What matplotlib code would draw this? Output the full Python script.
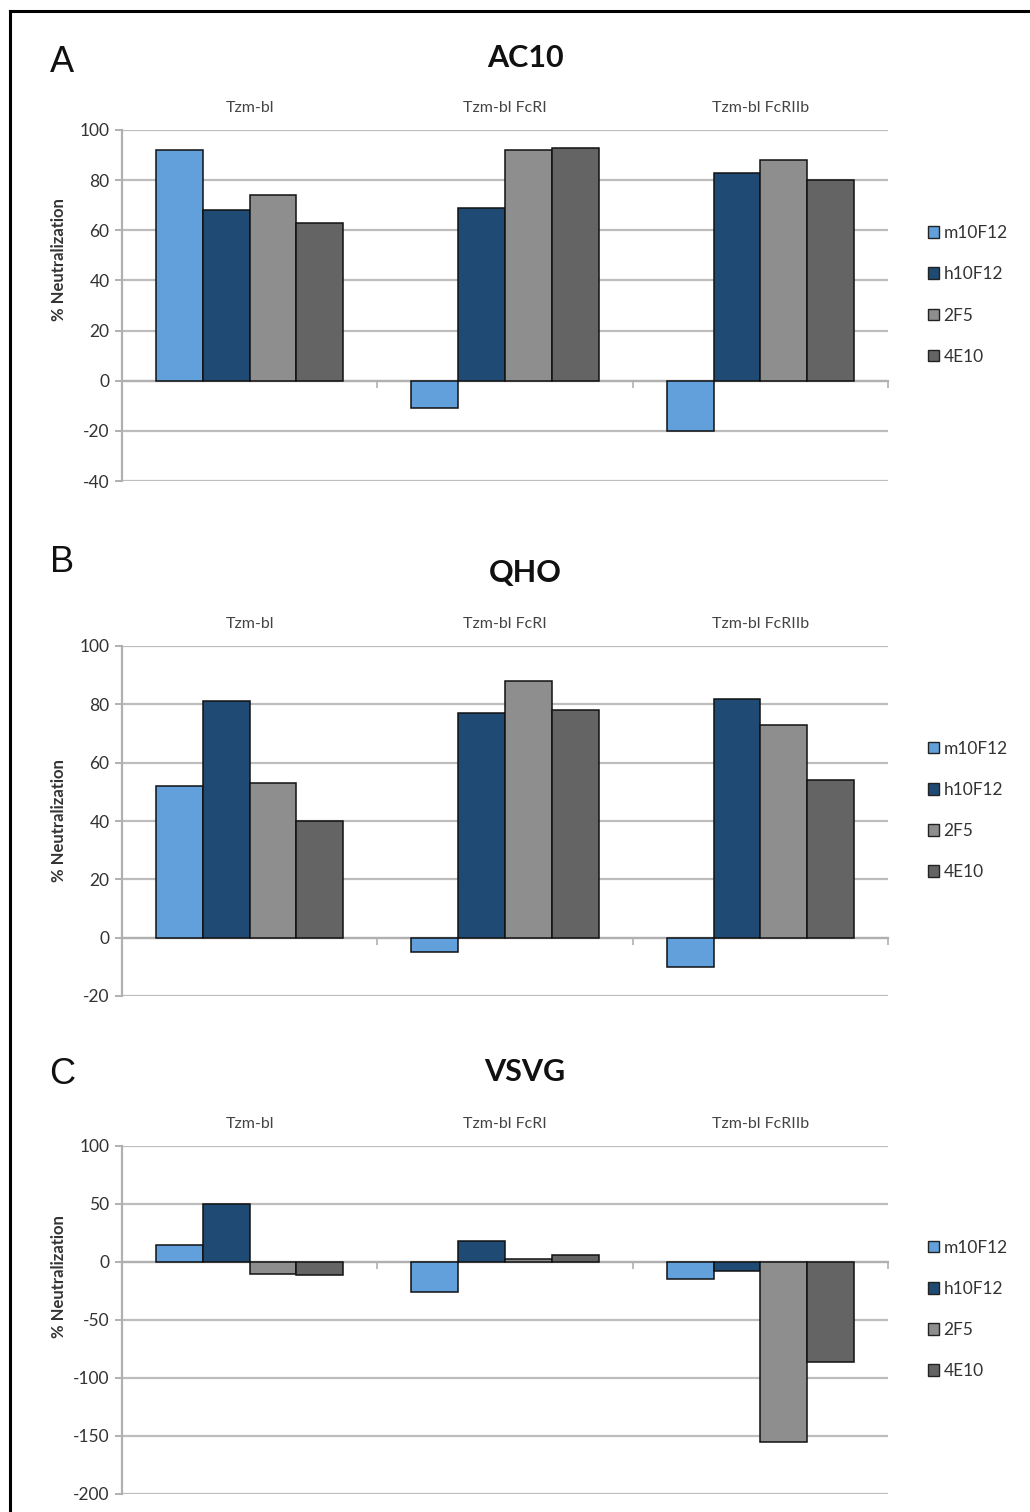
import matplotlib
matplotlib.use('Agg')
import matplotlib.pyplot as plt
import matplotlib.transforms as mtransforms
from matplotlib.lines import Line2D
from matplotlib.patches import Patch
import numpy as np

plt.rcParams['font.family'] = ['Lato', 'DejaVu Sans']
plt.rcParams['axes.unicode_minus'] = False

# ── data ──────────────────────────────────────────────────────────────────────
cells = ['Tzm-bl', 'Tzm-bl FcRI', 'Tzm-bl FcRIIb']
antibodies = ['m10F12', 'h10F12', '2F5', '4E10']

# % neutralization, one row per antibody, one column per cell line
ac10 = [
    [92, -11, -20],
    [68, 69, 83],
    [74, 92, 88],
    [63, 93, 80],
]
qho = [
    [52, -5, -10],
    [81, 77, 82],
    [53, 88, 73],
    [40, 78, 54],
]
vsvg = [
    [15, -26, -15],
    [50, 18, -8],
    [-10, 3, -155],
    [-11, 6, -86],
]

colors = ['#62a0dc', '#1f4a73', '#8e8e8e', '#646464']

W, H = 1030, 1512
fig = plt.figure(figsize=(W / 100, H / 100), dpi=100, facecolor='white')

# outer frame (left and top edges only fall inside the canvas)
fig.add_artist(Line2D([10 / W, 10 / W], [0, 1 - 11 / H], color='black',
                      linewidth=2.2, transform=fig.transFigure))
fig.add_artist(Line2D([10 / W, 1], [1 - 11 / H, 1 - 11 / H], color='black',
                      linewidth=2.2, transform=fig.transFigure))

panels = [
    # letter, title, values, ylim, yticks, axes top/bottom px, title y, letter y, ylabel frac
    ('A', 'AC10', ac10, (-40, 100), np.arange(-40, 101, 20), 130, 481, 58, 63, 0.632),
    ('B', 'QHO', qho, (-20, 100), np.arange(-20, 101, 20), 646, 996, 573, 563, 0.5),
    ('C', 'VSVG', vsvg, (-200, 100), np.arange(-200, 101, 50), 1146, 1494, 1072, 1075, 0.624),
]

x = np.arange(len(cells))
group = 0.733
bw = group / len(antibodies)

for letter, title, vals, ylim, yticks, top, bot, ty, ly, yl in panels:
    ax = fig.add_axes([122 / W, 1 - bot / H, 766 / W, (bot - top) / H])
    ax.set_xlim(-0.5, len(cells) - 0.5)
    ax.set_ylim(*ylim)

    for i, (name, v) in enumerate(zip(antibodies, vals)):
        ax.bar(x + (i - 1.5) * bw, v, width=bw, color=colors[i],
               edgecolor='#111111', linewidth=1.1, label=name, zorder=3)

    # grid + axes in the spreadsheet look
    ax.set_yticks(yticks)
    ax.yaxis.grid(True, color='#bdbdbd', linewidth=1.6, zorder=0)
    for s in ('top', 'right'):
        ax.spines[s].set_visible(False)
    ax.spines['left'].set_color('#b0b0b0')
    ax.spines['left'].set_linewidth(1.6)
    ax.spines['bottom'].set_position(('data', 0))
    ax.spines['bottom'].set_color('#b0b0b0')
    ax.spines['bottom'].set_linewidth(1.6)
    ax.spines['bottom'].set_zorder(2)
    ax.set_xticks(np.arange(len(cells) + 1) - 0.5)
    ax.tick_params(axis='x', length=5, width=1.2, color='#b0b0b0',
                   direction='out', labelbottom=False)
    ax.tick_params(axis='y', length=5, width=1.4, color='#b0b0b0',
                   labelsize=12.5, labelcolor='#333333', pad=4)

    # cell-line labels above the plot
    trans = mtransforms.blended_transform_factory(ax.transData, ax.transAxes)
    for xi, c in zip(x, cells):
        ax.text(xi, 1 + 22 / (bot - top), c, transform=trans, ha='center',
                va='center', fontsize=11.5, color='#444444')

    ax.set_ylabel('% Neutralization', fontsize=12, fontweight='bold',
                  color='#333333')
    ax.yaxis.set_label_coords((67 - 122) / 766, yl)

    fig.text(525 / W, 1 - ty / H, title, ha='center', va='center',
             fontsize=22, fontweight='bold', color='#111111')
    fig.text(62 / W, 1 - ly / H, letter, ha='center', va='center',
             fontsize=26, family=['Liberation Sans', 'DejaVu Sans'],
             color='#111111')

    handles = [Patch(facecolor=colors[i], edgecolor='#222222', linewidth=1.0,
                     label=n) for i, n in enumerate(antibodies)]
    ax.legend(handles=handles, loc='center left',
              bbox_to_anchor=(1.052, 0.53), frameon=False,
              borderaxespad=0, borderpad=0, handlelength=0.65,
              handleheight=0.65, handletextpad=0.25, labelspacing=1.45,
              fontsize=12.5, labelcolor='#333333')

fig.savefig('out.png', dpi=100, facecolor='white')
